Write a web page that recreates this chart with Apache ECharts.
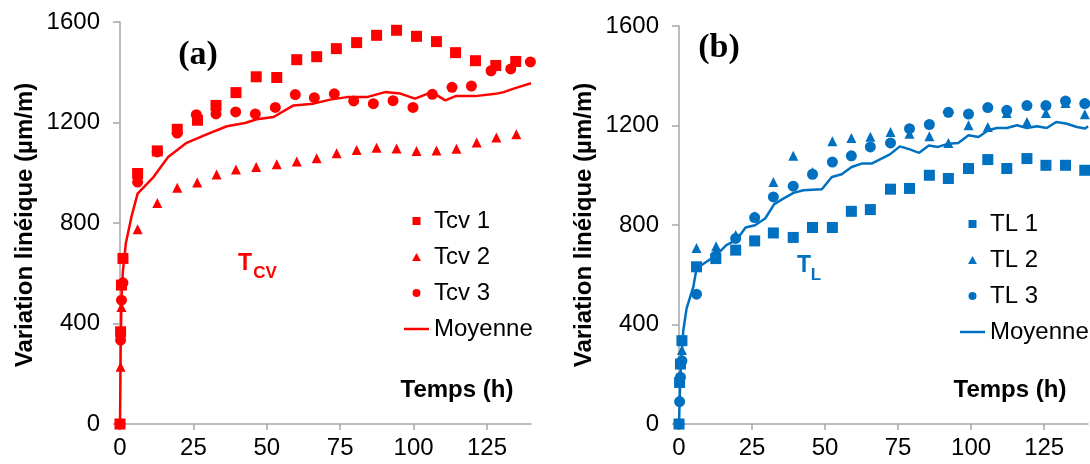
<!DOCTYPE html>
<html><head><meta charset="utf-8">
<script src="https://cdn.jsdelivr.net/npm/echarts@6/dist/echarts.min.js"></script>
<style>html,body{margin:0;padding:0;background:#fff}#c{width:1090px;height:464px}</style>
</head><body><div id="c"></div>
<script>
// ---- tick labels ----
const xTicks = [0, 25, 50, 75, 100, 125];
const yTicks = [0, 400, 800, 1200, 1600];

// ---- panel (a) : Tcv ----
const tcv1Time = [0, 0.2, 0.5, 1, 6, 12.7, 19.5, 26.4, 32.7, 39.5, 46.4, 53.4, 60.2, 67, 73.7, 80.6, 87.4, 94.2, 101, 107.8, 114.3, 121.1, 128, 134.8];
const tcv1Val  = [0, 367, 553, 659, 997, 1087, 1173, 1209, 1268, 1319, 1382, 1379, 1450, 1462, 1494, 1518, 1547, 1567, 1543, 1522, 1478, 1446, 1427, 1443];
const tcv2Time = [0, 0.2, 0.5, 6, 12.7, 19.5, 26.3, 32.9, 39.5, 46.4, 53.4, 60.2, 67, 73.8, 80.6, 87.4, 94.2, 101, 107.8, 114.6, 121.5, 128.2, 135];
const tcv2Val  = [0, 228, 466, 775, 880, 940, 961, 993, 1013, 1023, 1034, 1045, 1058, 1078, 1091, 1100, 1097, 1087, 1089, 1096, 1120, 1140, 1153];
const tcv3Time = [0, 0.2, 0.5, 1, 6, 12.7, 19.5, 26, 32.7, 39.4, 46.1, 52.9, 59.7, 66.2, 73, 79.6, 86.3, 93, 99.8, 106.4, 113.1, 119.7, 126.4, 133.1, 139.8];
const tcv3Val  = [0, 334, 493, 562, 963, 1083, 1158, 1231, 1234, 1242, 1234, 1260, 1311, 1299, 1314, 1286, 1275, 1287, 1260, 1312, 1340, 1345, 1406, 1413, 1441];
const tcvMeanTime = [0, 0.25, 0.5, 1, 2, 4, 6, 11.4, 16.4, 22.7, 29.5, 36.4, 42.6, 46.6, 52.3, 59.1, 65.9, 71.6, 77.3, 84.1, 90.3, 95.5, 100.5, 106.2, 110.8, 114.3, 121, 127.9, 130.7, 134.1, 140];
const tcvMeanVal  = [0, 310, 500, 610, 720, 830, 917, 983, 1063, 1119, 1153, 1185, 1198, 1213, 1222, 1268, 1275, 1291, 1301, 1301, 1321, 1315, 1295, 1321, 1288, 1305, 1305, 1314, 1321, 1335, 1356];

// ---- panel (b) : TL ----
const tl1Time = [0, 0.2, 0.5, 1, 6, 12.6, 19.4, 25.9, 32.3, 39.1, 45.7, 52.5, 59, 65.5, 72.4, 78.9, 85.7, 92.2, 99.1, 105.7, 112.2, 119.1, 125.6, 132.3, 138.9];
const tl1Val  = [0, 167, 241, 335, 632, 665, 699, 736, 768, 750, 790, 790, 855, 862, 944, 947, 1000, 987, 1027, 1063, 1027, 1067, 1040, 1040, 1020];
const tl2Time = [0, 1, 6, 12.7, 19.4, 25.9, 32.3, 39.1, 45.7, 52.5, 59, 65.5, 72.4, 78.9, 85.7, 92.2, 99.1, 105.7, 112.2, 119.1, 125.6, 132.3, 138.9];
const tl2Val  = [0, 297, 708, 715, 760, 835, 973, 1078, 1013, 1137, 1150, 1155, 1174, 1167, 1157, 1130, 1201, 1194, 1250, 1214, 1250, 1290, 1245];
const tl3Time = [0, 0.2, 0.5, 1, 6, 12.6, 19.4, 25.9, 32.3, 39.1, 45.7, 52.5, 59, 65.5, 72.4, 78.9, 85.7, 92.2, 99.1, 105.7, 112.2, 119.1, 125.6, 132.3, 138.9];
const tl3Val  = [0, 90, 188, 254, 522, 675, 746, 830, 913, 956, 1004, 1053, 1078, 1114, 1130, 1187, 1204, 1253, 1246, 1272, 1261, 1280, 1280, 1298, 1288];
const tlMeanTime = [0, 0.5, 1, 1.5, 2.6, 4.9, 6, 9.4, 12.8, 16.2, 19.6, 22.8, 26, 29.5, 32.6, 35.7, 39.2, 42.6, 48.9, 52.3, 55.7, 59.1, 62.5, 65.9, 72.2, 75.6, 79, 82.2, 85.5, 88.7, 92.2, 95.6, 99.1, 102.5, 105.9, 108.8, 112.2, 115.7, 119.1, 122.5, 125.9, 129.1, 132.5, 136.2, 139, 140];
const tlMeanVal  = [0, 200, 300, 378, 465, 551, 625, 652, 679, 719, 739, 790, 799, 826, 884, 906, 929, 940, 944, 993, 1004, 1033, 1047, 1047, 1084, 1116, 1104, 1090, 1120, 1114, 1127, 1130, 1161, 1154, 1181, 1190, 1190, 1201, 1190, 1197, 1190, 1214, 1208, 1194, 1188, 1197];

const RED = '#ff0000', BLUE = '#0070c0', AX = '#a6a6a6';
const FONT = 'Liberation Sans, Arial, sans-serif';
const zip = (t, v) => t.map((x, i) => [x, v[i]]);

const ICON_SQ = 'path://M0,0L10,0L10,10L0,10Z';
const ICON_TRI = 'path://M5,0L10,9L0,9Z';
const ICON_LINE = 'path://M0,0L100,0L100,10L0,10Z';

function xAxis(g) {
  return {
    gridIndex: g, type: 'value', min: 0, max: 140, interval: 25,
    axisLine: { show: true, onZero: true, lineStyle: { color: AX, width: 1.5 } },
    axisTick: { show: true, length: 6, inside: false, customValues: xTicks, lineStyle: { color: AX, width: 1.5 } },
    axisLabel: { customValues: xTicks, fontSize: 24, color: '#000', fontFamily: FONT, margin: 12,
      formatter: v => (xTicks.indexOf(v) >= 0 ? String(v) : '') },
    splitLine: { show: false }
  };
}
function yAxis(g) {
  return {
    gridIndex: g, type: 'value', min: 0, max: 1600, interval: 400,
    axisLine: { show: true, lineStyle: { color: AX, width: 1.5 } },
    axisTick: { show: true, length: 7, lineStyle: { color: AX, width: 1.5 } },
    axisLabel: { fontSize: 24, color: '#000', fontFamily: FONT, margin: 20,
      formatter: v => (yTicks.indexOf(v) >= 0 ? String(v) : '') },
    splitLine: { show: false }
  };
}
function scatter(name, g, data, symbol, size, color) {
  return { name, type: 'scatter', xAxisIndex: g, yAxisIndex: g, data, symbol, symbolSize: size,
    itemStyle: { color, opacity: 1 }, z: 3, silent: true };
}
function meanLine(name, g, data, color) {
  return { name, type: 'line', xAxisIndex: g, yAxisIndex: g, data, symbol: 'none', showSymbol: false,
    lineStyle: { color, width: 2.5 }, itemStyle: { color }, z: 2, silent: true, animation: false };
}
function legend(left, top, names) {
  const icons = [ICON_SQ, ICON_TRI, 'circle', ICON_LINE];
  return {
    orient: 'vertical', left, top, itemWidth: 25, itemHeight: 8, itemGap: 12,
    selectedMode: false, symbolKeepAspect: true,
    data: names.map((n, i) => ({ name: n, icon: icons[i] })),
    formatter: n => (n.indexOf('Moyenne') === 0 ? 'Moyenne' : n),
    textStyle: { fontSize: 24, color: '#000', fontFamily: FONT, lineHeight: 24 }
  };
}
function ytitle(x, y) {
  return { type: 'text', x, y, rotation: Math.PI / 2,
    style: { text: 'Variation linéique (µm/m)', font: 'bold 24px ' + FONT, fill: '#000', align: 'center', verticalAlign: 'middle' } };
}
function txt(x, y, text, font, fill) {
  return { type: 'text', x, y, style: { text, font, fill, align: 'center', verticalAlign: 'middle' } };
}

const chart = echarts.init(document.getElementById('c'), null, { renderer: 'canvas' });
chart.setOption({
  animation: false,
  backgroundColor: '#fff',
  grid: [
    { left: 120, top: 22, width: 411, height: 402, containLabel: false },
    { left: 679, top: 26, width: 409, height: 398, containLabel: false }
  ],
  xAxis: [xAxis(0), xAxis(1)],
  yAxis: [yAxis(0), yAxis(1)],
  legend: [
    legend(399, 204, ['Tcv 1', 'Tcv 2', 'Tcv 3', 'Moyenne_a']),
    legend(955, 207, ['TL 1', 'TL 2', 'TL 3', 'Moyenne_b'])
  ],
  series: [
    meanLine('Moyenne_a', 0, zip(tcvMeanTime, tcvMeanVal), RED),
    scatter('Tcv 1', 0, zip(tcv1Time, tcv1Val), 'rect', 11, RED),
    scatter('Tcv 2', 0, zip(tcv2Time, tcv2Val), 'triangle', 10, RED),
    scatter('Tcv 3', 0, zip(tcv3Time, tcv3Val), 'circle', 11, RED),
    meanLine('Moyenne_b', 1, zip(tlMeanTime, tlMeanVal), BLUE),
    scatter('TL 1', 1, zip(tl1Time, tl1Val), 'rect', 11, BLUE),
    scatter('TL 2', 1, zip(tl2Time, tl2Val), 'triangle', 10, BLUE),
    scatter('TL 3', 1, zip(tl3Time, tl3Val), 'circle', 11, BLUE)
  ],
  graphic: [
    ytitle(25, 225),
    ytitle(584, 225),
    txt(457, 390, 'Temps (h)', 'bold 24px ' + FONT, '#000'),
    txt(1010, 390, 'Temps (h)', 'bold 24px ' + FONT, '#000'),
    txt(198, 55, '(a)', 'bold 34px Liberation Serif, Times New Roman, serif', '#000'),
    txt(719, 48, '(b)', 'bold 34px Liberation Serif, Times New Roman, serif', '#000'),
    txt(245, 264, 'T', 'bold 23px ' + FONT, RED),
    txt(265, 273, 'CV', 'bold 17px ' + FONT, RED),
    txt(804, 266, 'T', 'bold 23px ' + FONT, BLUE),
    txt(816, 275, 'L', 'bold 17px ' + FONT, BLUE)
  ]
});
</script>
</body></html>
